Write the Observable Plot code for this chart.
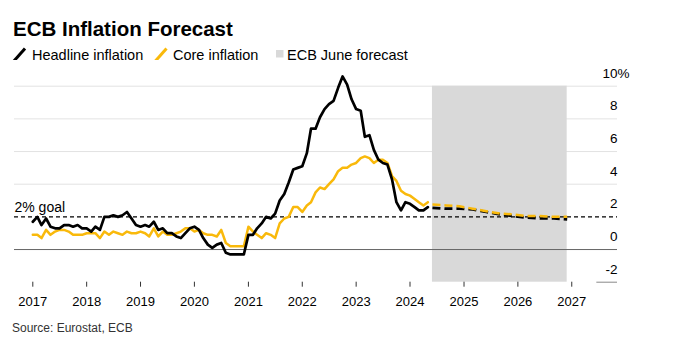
<!DOCTYPE html>
<html>
<head>
<meta charset="utf-8">
<script src="https://cdn.jsdelivr.net/npm/d3@7"></script>
<script src="https://cdn.jsdelivr.net/npm/@observablehq/plot@0.6"></script>
<style>
  body { margin: 0; background: #fff; width: 674px; height: 357px; position: relative; overflow: hidden;
         font-family: "Liberation Sans", Arial, Helvetica, sans-serif; }
  #title { position: absolute; left: 13px; top: 19px; font-size: 20.5px; font-weight: bold; line-height: 20px; color: #000; white-space: nowrap; }
  #legend { position: absolute; left: 0; top: 40px; }
  #chart { position: absolute; left: 0; top: 60px; }
  #source { position: absolute; left: 12px; top: 322.3px; font-size: 12px; line-height: 12px; color: #333; white-space: nowrap; }
</style>
</head>
<body>
<div id="title">ECB Inflation Forecast</div>
<svg id="legend" width="674" height="25" font-family="Liberation Sans, Arial, Helvetica, sans-serif" font-size="14.5">
  <line x1="13.5" y1="21.5" x2="25" y2="8.5" stroke="#000" stroke-width="3"/>
  <text x="32" y="20" fill="#000">Headline inflation</text>
  <line x1="155" y1="21.5" x2="166.5" y2="8.5" stroke="#f9b90b" stroke-width="3"/>
  <text x="173" y="20" fill="#000">Core inflation</text>
  <rect x="276" y="10" width="7.5" height="7.5" fill="#d9d9d9"/>
  <text x="287" y="20" fill="#000">ECB June forecast</text>
</svg>
<div id="chart"></div>
<div id="source">Source: Eurostat, ECB</div>
<script>
// ---- Data ----
const startYear = 2017, startMonth = 0; // monthly series start Jan 2017
const headline = [
  // 2017
  1.7, 2.0, 1.5, 1.9, 1.4, 1.3, 1.3, 1.5, 1.5, 1.4, 1.5, 1.3,
  // 2018
  1.3, 1.1, 1.4, 1.2, 2.0, 2.0, 2.1, 2.0, 2.1, 2.3, 1.9, 1.5,
  // 2019
  1.4, 1.5, 1.4, 1.7, 1.2, 1.3, 1.0, 1.0, 0.8, 0.7, 1.0, 1.3,
  // 2020
  1.4, 1.2, 0.7, 0.3, 0.1, 0.3, 0.4, -0.2, -0.3, -0.3, -0.3, -0.3,
  // 2021
  0.9, 0.9, 1.3, 1.6, 2.0, 1.9, 2.2, 3.0, 3.4, 4.1, 4.9, 5.0,
  // 2022
  5.1, 5.9, 7.4, 7.4, 8.1, 8.6, 8.9, 9.1, 9.9, 10.6, 10.1, 9.2,
  // 2023
  8.6, 8.5, 6.9, 7.0, 6.1, 5.5, 5.3, 5.2, 4.3, 2.9, 2.4, 2.9,
  // 2024
  2.8, 2.6, 2.4, 2.4, 2.6
];
const core = [
  // 2017
  0.9, 0.9, 0.7, 1.2, 0.9, 1.1, 1.2, 1.2, 1.1, 0.9, 0.9, 0.9,
  // 2018
  1.0, 1.0, 1.0, 0.7, 1.1, 0.9, 1.1, 1.0, 0.9, 1.1, 1.0, 1.0,
  // 2019
  1.1, 1.0, 0.8, 1.3, 0.8, 1.1, 0.9, 0.9, 1.0, 1.1, 1.3, 1.3,
  // 2020
  1.1, 1.2, 1.0, 0.9, 0.9, 0.8, 1.2, 0.4, 0.2, 0.2, 0.2, 0.2,
  // 2021
  1.4, 1.1, 0.9, 0.7, 1.0, 0.9, 0.7, 1.6, 1.9, 2.0, 2.6, 2.6,
  // 2022
  2.3, 2.7, 2.9, 3.5, 3.8, 3.7, 4.0, 4.3, 4.8, 5.0, 5.0, 5.2,
  // 2023
  5.3, 5.6, 5.7, 5.6, 5.3, 5.5, 5.5, 5.3, 4.5, 4.2, 3.6, 3.4,
  // 2024
  3.3, 3.1, 2.9, 2.7, 2.9
];
// ECB June projections (quarterly)
const forecastDates = ["2024-06-01","2024-09-01","2024-12-01","2025-03-01","2025-06-01","2025-09-01",
                       "2025-12-01","2026-03-01","2026-06-01","2026-09-01","2026-12-01"];
const forecastHeadline = [2.55, 2.5, 2.5, 2.45, 2.3, 2.15, 2.05, 1.95, 1.9, 1.9, 1.85];
const forecastCore     = [2.75, 2.7, 2.65, 2.5, 2.35, 2.2, 2.15, 2.05, 2.05, 2.0, 2.0];
const forecastWindow = ["2024-06-01", "2026-12-01"];
const yearTicks = [2017, 2018, 2019, 2020, 2021, 2022, 2023, 2024, 2025, 2026, 2027];
const yTicks = [10, 8, 6, 4, 2, 0, -2];
const goal = 2;

// ---- Build tables ----
const monthDate = i => new Date(Date.UTC(startYear, startMonth + i, 1));
const headRows = headline.map((v, i) => ({date: monthDate(i), value: v}));
const coreRows = core.map((v, i) => ({date: monthDate(i), value: v}));
const fcHeadRows = forecastDates.map((d, i) => ({date: new Date(d), value: forecastHeadline[i]}));
const fcCoreRows = forecastDates.map((d, i) => ({date: new Date(d), value: forecastCore[i]}));
const shade = [{start: new Date(forecastWindow[0]), end: new Date(forecastWindow[1])}];
const yearDates = yearTicks.map(y => new Date(Date.UTC(y, 0, 1)));
const gridVals = yTicks.filter(v => v > 0 && v !== goal);

const YELLOW = "#f9b90b";
const FONT = "Liberation Sans, Arial, Helvetica, sans-serif";

const chart = Plot.plot({
  width: 674,
  height: 260,
  marginLeft: 14,
  marginRight: 57,
  marginTop: 25.7,
  marginBottom: 38.3,
  x: {type: "utc", domain: [new Date("2016-08-30"), new Date("2027-11-07")], axis: null},
  y: {domain: [-2, 10], axis: null},
  style: {fontFamily: FONT, fontSize: "13px", color: "#000", background: "#fff", overflow: "visible"},
  marks: [
    Plot.ruleY(gridVals, {stroke: "#e3e3e3", strokeWidth: 1}),
    Plot.rect(shade, {x1: "start", x2: "end", y1: -2, y2: 10, fill: "#d9d9d9"}),
    Plot.ruleY([0], {stroke: "#666", strokeWidth: 1}),
    Plot.ruleY([{y: -2, a: new Date("2027-06-20"), b: new Date("2027-11-07")}], {y: "y", x1: "a", x2: "b", stroke: "#888", strokeWidth: 1}),
    Plot.ruleY([goal], {stroke: "#000", strokeWidth: 1.2, strokeDasharray: "4,3"}),
    Plot.line(coreRows, {x: "date", y: "value", stroke: YELLOW, strokeWidth: 2.5}),
    Plot.line(headRows, {x: "date", y: "value", stroke: "#000", strokeWidth: 2.7}),
    Plot.line(fcHeadRows, {x: "date", y: "value", stroke: "#000", strokeWidth: 2.7, strokeDasharray: "8,4", strokeLinecap: "butt"}),
    Plot.line(fcCoreRows, {x: "date", y: "value", stroke: YELLOW, strokeWidth: 2.5, strokeDasharray: "8,4", strokeLinecap: "butt"}),
    Plot.axisX({ticks: yearDates, tickFormat: d3.utcFormat("%Y"), tickSize: 5, tickPadding: 10, stroke: "#333", fill: "#000", fontSize: 13}),
    Plot.text(yTicks, {y: d => d, text: d => String(d), frameAnchor: "right", textAnchor: "end", lineAnchor: "bottom", dy: -8.5, fontSize: 13.5, fill: "#000"}),
    Plot.text(["%"], {y: () => yTicks[0], text: d => d, frameAnchor: "right", textAnchor: "start", lineAnchor: "bottom", dy: -8.5, fontSize: 13.5, fill: "#000"}),
    Plot.text(["2% goal"], {y: () => goal, text: d => d, frameAnchor: "left", textAnchor: "start", lineAnchor: "bottom", dy: -5, fontSize: 14, fill: "#000"})
  ]
});
document.getElementById("chart").appendChild(chart);
</script>
</body>
</html>
